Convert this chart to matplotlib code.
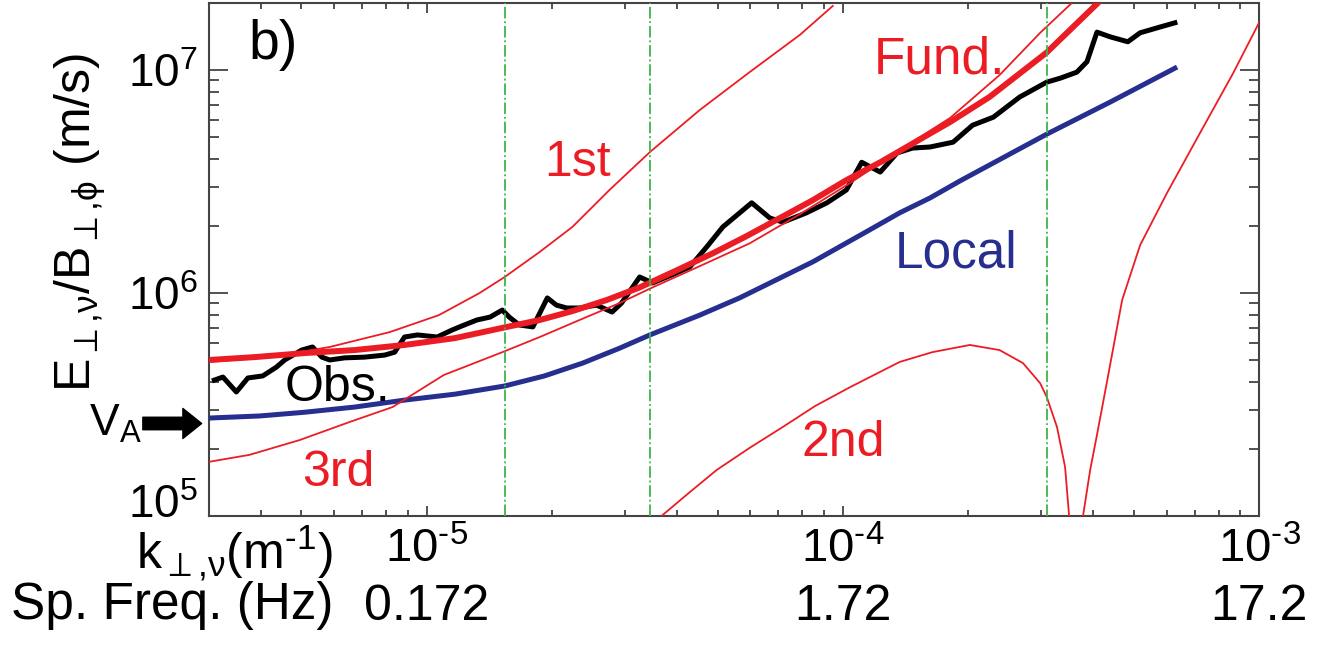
import matplotlib.pyplot as plt
import matplotlib.transforms as mtransforms
from matplotlib.ticker import NullFormatter

plt.rcParams['font.family'] = ['Liberation Sans', 'DejaVu Sans']
plt.rcParams['mathtext.fontset'] = 'custom'
plt.rcParams['mathtext.rm'] = 'Liberation Sans'
plt.rcParams['mathtext.it'] = 'Liberation Sans:italic'
plt.rcParams['mathtext.bf'] = 'Liberation Sans:bold'

# observed E/B ratio (black)
obs_k = [3.09e-6, 3.24e-6, 3.49e-6, 3.72e-6, 4.04e-6, 4.36e-6, 4.56e-6, 5.01e-6, 5.32e-6,
         5.60e-6, 5.85e-6, 6.35e-6, 7.10e-6, 7.93e-6, 8.38e-6, 8.85e-6, 9.51e-6, 1.06e-5,
         1.15e-5, 1.20e-5, 1.32e-5, 1.42e-5, 1.52e-5, 1.58e-5, 1.67e-5, 1.80e-5, 1.95e-5,
         2.05e-5, 2.17e-5, 2.33e-5, 2.56e-5, 2.79e-5, 2.94e-5, 3.25e-5, 3.49e-5, 3.90e-5,
         4.29e-5, 4.71e-5, 5.15e-5, 6.04e-5, 6.68e-5, 7.18e-5, 8.18e-5, 9.16e-5, 1.02e-4,
         1.11e-4, 1.23e-4, 1.35e-4, 1.47e-4, 1.62e-4, 1.84e-4, 2.05e-4, 2.30e-4, 2.66e-4,
         3.09e-4, 3.33e-4, 3.65e-4, 3.86e-4, 4.08e-4, 4.39e-4, 4.84e-4, 5.18e-4, 5.78e-4,
         6.28e-4]
obs_v = [4.07e5, 4.20e5, 3.60e5, 4.16e5, 4.25e5, 4.66e5, 5.01e5, 5.55e5, 5.73e5,
         5.16e5, 5.01e5, 5.12e5, 5.16e5, 5.27e5, 5.43e5, 6.35e5, 6.49e5, 6.35e5,
         6.82e5, 7.05e5, 7.57e5, 7.80e5, 8.39e5, 7.80e5, 7.19e5, 7.05e5, 9.51e5,
         8.83e5, 8.57e5, 8.57e5, 8.83e5, 8.22e5, 9.02e5, 1.18e6, 1.11e6, 1.21e6,
         1.31e6, 1.61e6, 1.98e6, 2.54e6, 2.17e6, 2.08e6, 2.29e6, 2.54e6, 2.90e6,
         3.86e6, 3.49e6, 4.25e6, 4.47e6, 4.52e6, 4.75e6, 5.66e6, 6.15e6, 7.57e6,
         8.83e6, 9.20e6, 9.79e6, 1.09e7, 1.48e7, 1.41e7, 1.34e7, 1.47e7, 1.56e7,
         1.63e7]

# fundamental mode (thick red)
fund_k = [3.0e-6, 3.86e-6, 5.09e-6, 6.71e-6, 8.85e-6, 1.17e-5, 1.56e-5, 1.87e-5, 2.24e-5,
          2.71e-5, 3.25e-5, 3.90e-5, 4.88e-5, 5.87e-5, 7.06e-5, 8.47e-5, 1.02e-4, 1.23e-4,
          1.45e-4, 1.81e-4, 2.25e-4, 3.09e-4, 4.10e-4]
fund_v = [5.01e5, 5.16e5, 5.38e5, 5.55e5, 5.85e5, 6.28e5, 7.05e5, 7.57e5, 8.30e5,
          9.31e5, 1.06e6, 1.24e6, 1.51e6, 1.80e6, 2.17e6, 2.61e6, 3.21e6, 3.86e6,
          4.61e6, 5.85e6, 7.57e6, 1.20e7, 2.0e7]

# 1st harmonic
first_k = [3.0e-6, 4.20e-6, 5.85e-6, 8.15e-6, 1.07e-5, 1.34e-5, 1.54e-5, 1.87e-5, 2.24e-5,
           2.75e-5, 3.44e-5, 4.53e-5, 5.97e-5, 7.89e-5, 9.46e-5]
first_v = [4.91e5, 5.16e5, 5.73e5, 6.68e5, 7.96e5, 1.00e6, 1.18e6, 1.53e6, 1.98e6,
           2.90e6, 4.29e6, 6.62e6, 9.79e6, 1.44e7, 1.94e7]

# 2nd harmonic (two branches around the zero)
second_k = [3.44e-5, 3.69e-5, 4.29e-5, 4.98e-5, 5.97e-5, 7.18e-5, 8.57e-5, 1.04e-4, 1.37e-4,
            1.64e-4, 2.02e-4, 2.38e-4, 2.71e-4, 2.98e-4, 3.09e-4, 3.27e-4, 3.42e-4, 3.52e-4]
second_v = [9.02e4, 1.01e5, 1.28e5, 1.61e5, 2.02e5, 2.51e5, 3.11e5, 3.78e5, 4.91e5,
            5.43e5, 5.85e5, 5.55e5, 4.85e5, 3.94e5, 3.42e5, 2.51e5, 1.66e5, 8.65e4]
second_k2 = [3.74e-4, 3.78e-4, 3.93e-4, 4.08e-4, 4.32e-4, 4.69e-4, 5.18e-4, 6.01e-4,
             7.21e-4, 8.67e-4, 1.0e-3]
second_v2 = [8.65e4, 1.01e5, 1.61e5, 2.31e5, 4.07e5, 9.31e5, 1.64e6, 2.81e6,
             5.21e6, 9.70e6, 1.63e7]

# 3rd harmonic
third_k = [3.0e-6, 3.75e-6, 4.95e-6, 6.53e-6, 8.28e-6, 1.10e-5, 1.52e-5, 1.87e-5, 2.33e-5,
           2.91e-5, 3.49e-5, 4.53e-5, 5.97e-5, 7.89e-5, 1.04e-4, 1.37e-4, 1.81e-4, 2.38e-4,
           2.98e-4, 3.55e-4]
third_v = [1.75e5, 1.88e5, 2.19e5, 2.64e5, 3.08e5, 4.29e5, 5.43e5, 6.35e5, 7.57e5,
           9.02e5, 1.06e6, 1.32e6, 1.67e6, 2.26e6, 3.11e6, 4.38e6, 6.10e6, 9.50e6,
           1.47e7, 2.0e7]

# local Alfven speed model (blue)
local_k = [3.0e-6, 3.97e-6, 5.09e-6, 6.71e-6, 8.85e-6, 1.17e-5, 1.54e-5, 1.92e-5, 2.37e-5,
           2.91e-5, 3.44e-5, 4.53e-5, 5.65e-5, 8.47e-5, 1.16e-4, 1.37e-4, 1.62e-4, 1.91e-4,
           3.09e-4, 4.39e-4, 6.28e-4]
local_v = [2.75e5, 2.81e5, 2.92e5, 3.08e5, 3.31e5, 3.52e5, 3.83e5, 4.25e5, 4.85e5,
           5.66e5, 6.49e5, 7.96e5, 9.51e5, 1.38e6, 1.92e6, 2.29e6, 2.67e6, 3.18e6,
           5.16e6, 7.19e6, 1.02e7]

# marked wavenumbers (green) and Alfven speed arrow
mark_k = [1.54e-5, 3.44e-5, 3.09e-4]
v_alfven = 2.6e5

tick_k = [1e-5, 1e-4, 1e-3]
tick_k_labels = [r'$\mathregular{10^{\text{-}5}}$', r'$\mathregular{10^{\text{-}4}}$',
                 r'$\mathregular{10^{\text{-}3}}$']
freq_labels = ['0.172', '1.72', '17.2']
tick_v = [1e5, 1e6, 1e7]
tick_v_labels = [r'$\mathregular{10^{5}}$', r'$\mathregular{10^{6}}$', r'$\mathregular{10^{7}}$']

red = '#ec1c24'
blue = '#262f8f'
green = '#3cb44b'

fig = plt.figure(figsize=(13.41, 6.48), dpi=100)
ax = fig.add_axes([209 / 1341, 132 / 648, 1050 / 1341, 513 / 648])

ax.plot(obs_k, obs_v, color='black', lw=3.6, zorder=2)
ax.plot(fund_k, fund_v, color=red, lw=4.3, zorder=3)
ax.plot(local_k, local_v, color=blue, lw=3.6, zorder=3)
for kk, vv in [(first_k, first_v), (second_k, second_v), (second_k2, second_v2), (third_k, third_v)]:
    ax.plot(kk, vv, color=red, lw=1.3, zorder=4)
for km in mark_k:
    ax.axvline(km, color=green, lw=1.3, ls='-.', zorder=5)

ax.set_xscale('log')
ax.set_yscale('log')
ax.set_xlim(3e-6, 1e-3)
ax.set_ylim(1e5, 2e7)

ax.set_xticks(tick_k)
ax.set_xticklabels(tick_k_labels)
ax.set_yticks(tick_v)
ax.set_yticklabels(tick_v_labels)
ax.xaxis.set_minor_formatter(NullFormatter())
ax.yaxis.set_minor_formatter(NullFormatter())

ax.tick_params(axis='both', which='both', direction='in', top=True, right=True,
               color='#444444', width=1.3)
ax.tick_params(axis='x', which='major', length=7, labelsize=34, pad=8)
ax.tick_params(axis='x', which='minor', length=4)
ax.tick_params(axis='y', which='major', length=14, labelsize=33, pad=8)
ax.tick_params(axis='y', which='minor', length=7)
for sp in ax.spines.values():
    sp.set_color('#444444')
    sp.set_linewidth(1.5)

# lowest y label sits above its tick so it clears the x label row
lab5 = ax.get_yticklabels()[0]
lab5.set_transform(lab5.get_transform() +
                   mtransforms.ScaledTranslation(0, 0.15, fig.dpi_scale_trans))

# second row of x labels: spatial frequency
trans = mtransforms.blended_transform_factory(ax.transData, ax.transAxes)
for kk, lab in zip(tick_k, freq_labels):
    ax.text(kk, -0.177, lab, transform=trans, ha='center', va='center', fontsize=36,
            clip_on=False)

fig.text(333 / 1341, 1 - 553 / 648, r'$\mathregular{k_{\perp{,}\nu}(m^{\text{-}1})}$',
         ha='right', va='center', fontsize=36)
fig.text(333 / 1341, 1 - 606 / 648, 'Sp. Freq. (Hz)', ha='right', va='center', fontsize=37)
fig.text(80 / 1341, 1 - 222 / 648,
         r'$\mathregular{E_{\perp{,}\nu}/B_{\perp{,}\phi}}$ (m/s)',
         rotation=90, ha='center', va='center', fontsize=36)

# Alfven speed arrow
ytrans = mtransforms.blended_transform_factory(ax.transAxes, ax.transData)
ax.annotate('', xy=(-0.007, v_alfven), xycoords=ytrans, xytext=(-0.063, v_alfven),
            textcoords=ytrans,
            arrowprops=dict(arrowstyle='simple,head_length=0.75,head_width=1.2,tail_width=0.5',
                            fc='black', ec='black', mutation_scale=18, shrinkA=0, shrinkB=0))
ax.text(-0.064, v_alfven, r'$\mathregular{V_A}$', transform=ytrans, ha='right', va='center',
        fontsize=32)

# curve labels
ax.text(0.061, 0.918, 'b)', transform=ax.transAxes, ha='center', va='center', fontsize=40)
ax.text(0.122, 0.2495, 'Obs.', transform=ax.transAxes, ha='center', va='center', fontsize=36,
        color='black')
ax.text(0.696, 0.889, 'Fund.', transform=ax.transAxes, ha='center', va='center', fontsize=37,
        color=red)
ax.text(0.351, 0.688, '1st', transform=ax.transAxes, ha='center', va='center', fontsize=36,
        color=red)
ax.text(0.712, 0.511, 'Local', transform=ax.transAxes, ha='center', va='center', fontsize=37,
        color=blue)
ax.text(0.123, 0.084, '3rd', transform=ax.transAxes, ha='center', va='center', fontsize=36,
        color=red)
ax.text(0.604, 0.142, '2nd', transform=ax.transAxes, ha='center', va='center', fontsize=36,
        color=red)

fig.savefig('out.png', dpi=100)
